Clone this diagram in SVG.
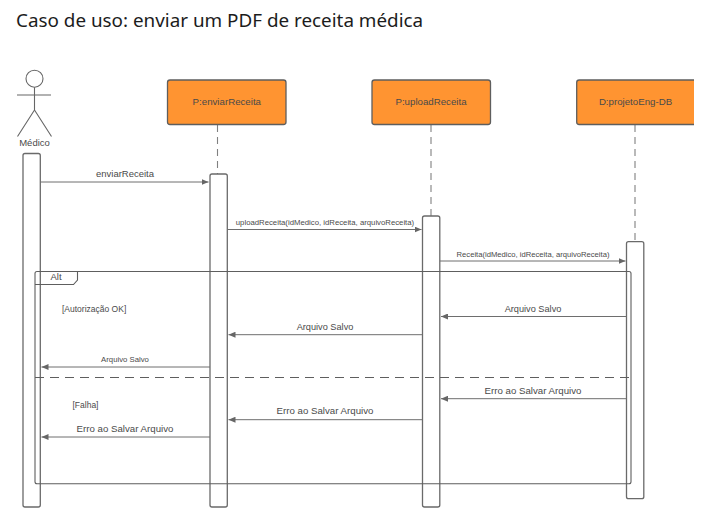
<svg xmlns="http://www.w3.org/2000/svg" width="706" height="516" viewBox="0 0 706 516">
<style>
text{font-family:"Liberation Sans",Arial,sans-serif;fill:#4a4a4a;font-size:9.5px}
.m{text-anchor:middle}
.title{font-family:"Noto Sans",sans-serif;font-size:18.85px;fill:#1c1c1c}
.box{fill:#ff9431;stroke:#5e5e5e;stroke-width:1.3}
.act{fill:#fff;stroke:#6a6a6a;stroke-width:1.3}
.life{stroke:#808080;stroke-width:1.1;stroke-dasharray:7 5;fill:none}
.msg{stroke:#6e6e6e;stroke-width:1;fill:none;marker-end:url(#arrow)}
.frame{fill:none;stroke:#5e5e5e;stroke-width:1.1}
.actor{fill:none;stroke:#666;stroke-width:1.1}
.n{font-size:9.700px}
.s{font-size:7.750px}
.r{font-size:7.650px}
.g{font-size:8.500px}
.a{font-size:9.200px}
.e{font-size:9.700px}
</style>
<defs>
<marker id="arrow" markerUnits="userSpaceOnUse" markerWidth="8" markerHeight="6" refX="7" refY="3" orient="auto"><path d="M0 0L7 3L0 6Z" fill="#666"/></marker>
</defs>
<rect width="706" height="516" fill="#fff"/>
<text class="title" x="16" y="26.500">Caso de uso: enviar um PDF de receita médica</text>

<g id="lifelines">
<path class="life" d="M217.500 125V174"/>
<path class="life" d="M431 125V216"/>
<path class="life" d="M635 125V242"/>
</g>
<g id="actor-medico">
<circle class="actor" cx="34.500" cy="78.700" r="8.500"/>
<path class="actor" d="M34.500 87.200V110M17 95H51M34.500 110L17.500 136.500M34.500 110L51.500 136.500"/>
<text class="m" x="34.500" y="145.500">Médico</text>
</g>
<g id="node-enviarReceita">
<rect class="box" x="167.500" y="80" width="118.500" height="44.500" rx="2.500"/>
<text class="m n" x="226.800" y="104.500">P:enviarReceita</text>
</g>
<g id="node-uploadReceita">
<rect class="box" x="372" y="80" width="118.500" height="44.500" rx="2.500"/>
<text class="m n" x="431" y="104.500">P:uploadReceita</text>
</g>
<g id="node-projetoEng">
<path class="box" d="M694 80H579.200A2.500 2.500 0 0 0 576.700 82.500V122A2.500 2.500 0 0 0 579.200 124.500H694"/>
<text class="m n" x="635.500" y="104.500">D:projetoEng-DB</text>
</g>

<g id="activations">
<rect id="act-medico" class="act" x="23" y="153.500" width="17.300" height="353.500" rx="2"/>
<rect id="act-enviar" class="act" x="210" y="174" width="17.300" height="333" rx="2"/>
<rect id="act-upload" class="act" x="422.500" y="216" width="17.300" height="291" rx="2"/>
<rect id="act-db" class="act" x="626.500" y="241.700" width="17.300" height="257" rx="2"/>
</g>

<g id="frame-alt">
<rect class="frame" x="35" y="271.500" width="596" height="212.200" rx="2"/>
<path class="frame" d="M35 284.500H73.500L77.500 280V271.500"/>
<path d="M35 377.500H631" fill="none" stroke="#5e5e5e" stroke-width="1" stroke-dasharray="9 6"/>
<text x="50.500" y="279.500">Alt</text>
<text class="g" x="62" y="312">[Autorização OK]</text>
<text class="g" x="72.500" y="408">[Falha]</text>
</g>

<g id="connectors">
<path class="msg" d="M40.500 182H208.500"/>
<path class="msg" d="M227.500 229.500H421.500"/>
<path class="msg" d="M440 261H625.500"/>
<path class="msg" d="M626.500 316.500H441"/>
<path class="msg" d="M422.500 334.700H228.500"/>
<path class="msg" d="M210 367H41.500"/>
<path class="msg" d="M626.500 398.700H441"/>
<path class="msg" d="M422.500 419.700H228.500"/>
<path class="msg" d="M210 437H41.500"/>
</g>

<g id="labels">
<text class="m" x="125" y="177">enviarReceita</text>
<text class="m s" x="325" y="224.500">uploadReceita(idMedico, idReceita, arquivoReceita)</text>
<text class="m r" x="533" y="256.800">Receita(idMedico, idReceita, arquivoReceita)</text>
<text class="m a" x="533" y="311.500">Arquivo Salvo</text>
<text class="m a" x="325" y="329.500">Arquivo Salvo</text>
<text class="m s" x="125" y="362">Arquivo Salvo</text>
<text class="m e" x="533" y="393.500">Erro ao Salvar Arquivo</text>
<text class="m e" x="325" y="414">Erro ao Salvar Arquivo</text>
<text class="m e" x="125" y="431.500">Erro ao Salvar Arquivo</text>
</g>
</svg>
